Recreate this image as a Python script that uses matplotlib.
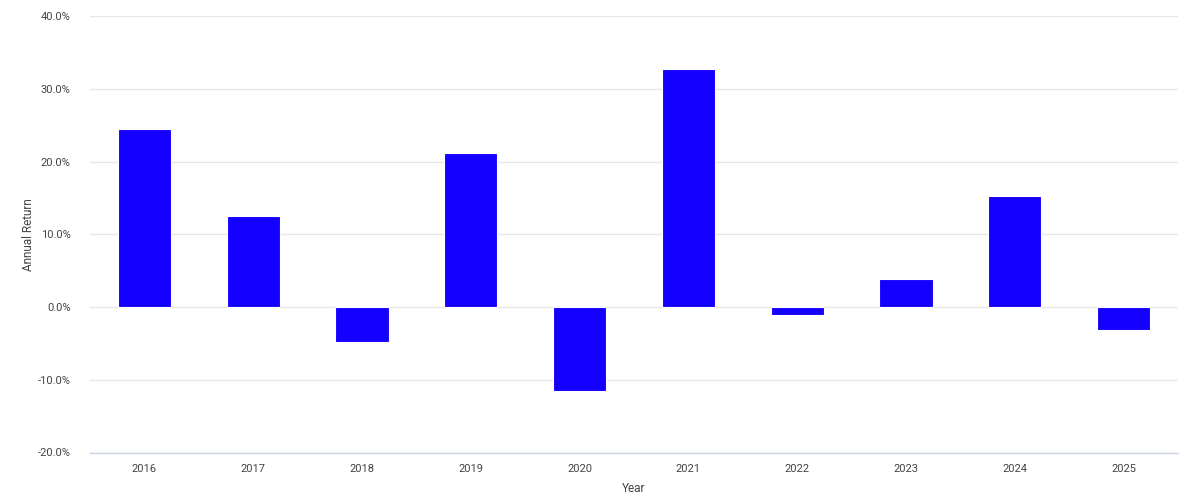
import matplotlib
matplotlib.use("Agg")
import matplotlib.pyplot as plt
from matplotlib.ticker import FuncFormatter

years = ["2016", "2017", "2018", "2019", "2020", "2021", "2022", "2023", "2024", "2025"]
returns = [24.4, 12.5, -4.8, 21.1, -11.5, 32.7, -1.1, 3.9, 15.2, -3.2]
yticks = [-20, -10, 0, 10, 20, 30, 40]

plt.rcParams["font.family"] = ["Roboto", "DejaVu Sans"]

W, H = 1192, 503
fig = plt.figure(figsize=(W / 100, H / 100), dpi=100)
ax = fig.add_axes([90 / W, (H - 452.5) / H, (1178 - 90) / W, (452.5 - 16) / H])

x = range(len(years))
ax.bar(x, returns, width=0.49, color="#1400ff", edgecolor="white", linewidth=0.8, zorder=3)

ax.set_xlim(-0.5, len(years) - 0.5)
ax.set_ylim(-20, 40)
ax.set_yticks(yticks)
ax.yaxis.set_major_formatter(FuncFormatter(lambda v, _: f"{v:.1f}%"))
ax.set_xticks(list(x))
ax.set_xticklabels(years)

ax.grid(axis="y", color="#e6e6e6", linewidth=1, zorder=0)
for s in ["top", "right", "left"]:
    ax.spines[s].set_visible(False)
ax.spines["bottom"].set_color("#ccd6eb")
ax.spines["bottom"].set_linewidth(1)
ax.tick_params(axis="both", length=0, labelsize=8, colors="#444444")
ax.tick_params(axis="y", pad=14)
ax.tick_params(axis="x", pad=8)

ax.set_xlabel("Year", fontsize=8.5, color="#444444", labelpad=6)
ax.set_ylabel("Annual Return", fontsize=8.5, color="#444444", labelpad=2)

fig.savefig("out.png", dpi=100)
